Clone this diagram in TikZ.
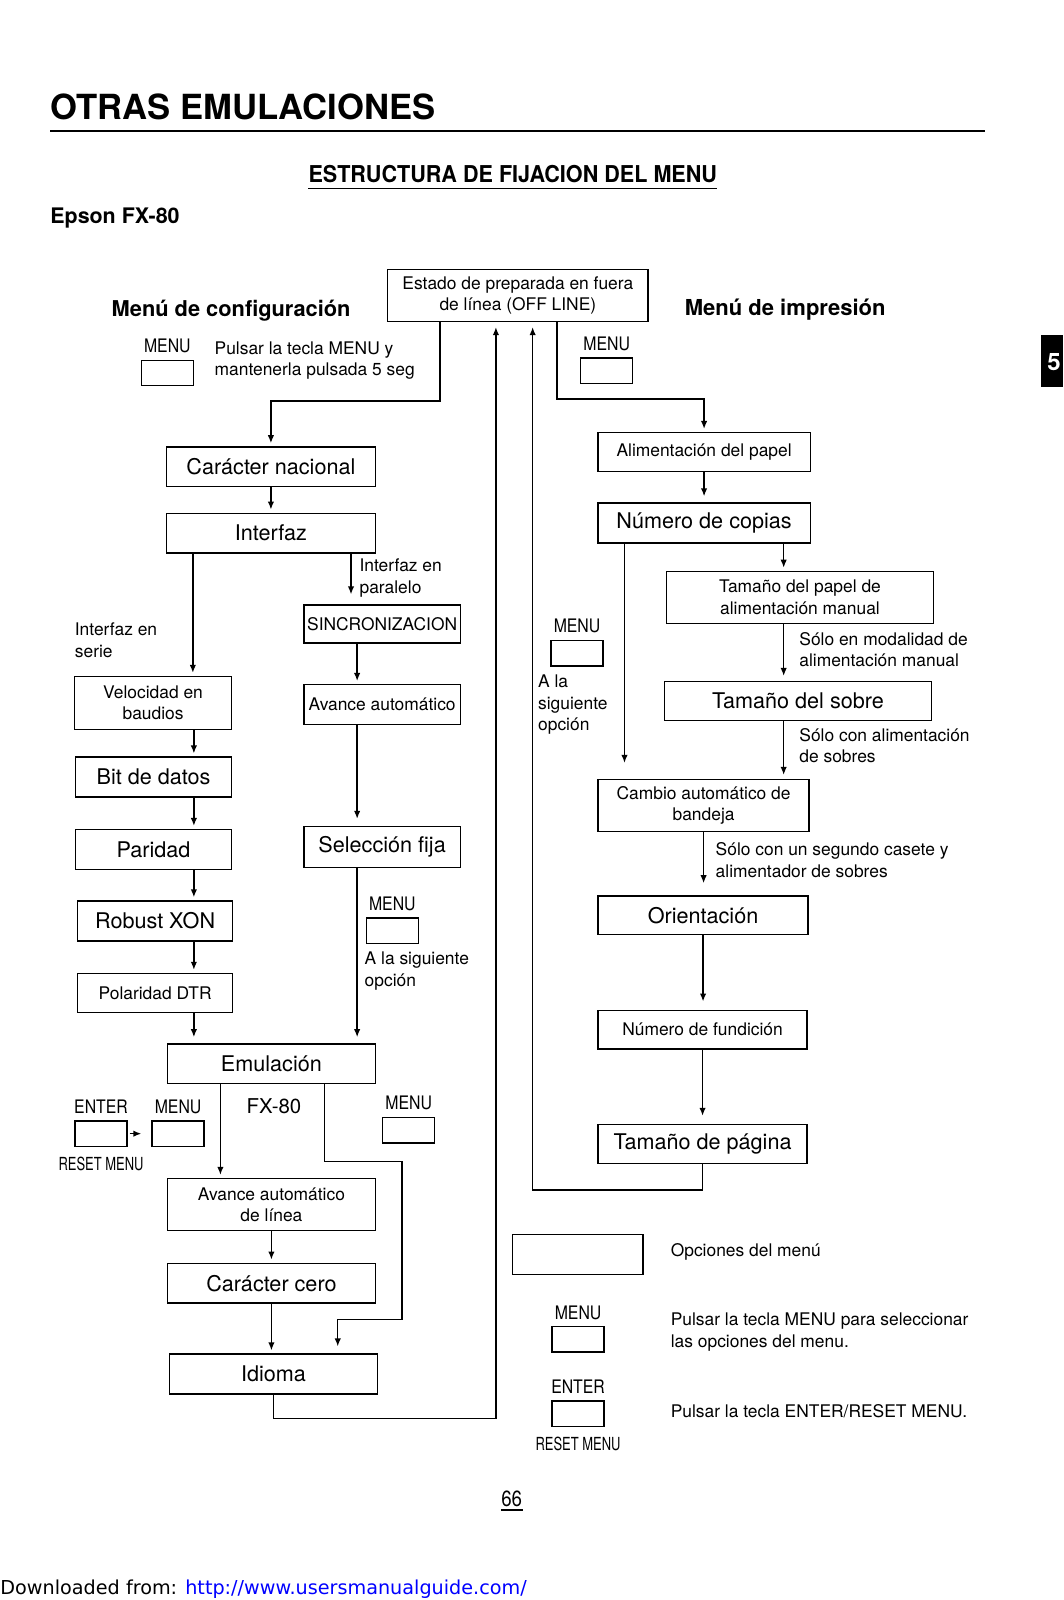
\documentclass[tikz,border=0pt]{standalone}
\usepackage{fontspec}
\setmainfont{TeX Gyre Heros}
\newfontfamily\keyfont[FakeStretch=0.85]{TeX Gyre Heros}
\newfontfamily\resetfont[FakeStretch=0.72]{TeX Gyre Heros}
\newfontfamily\subfont[FakeStretch=0.93]{TeX Gyre Heros}
\newfontfamily\dlfont{DejaVu Sans}
\usetikzlibrary{positioning,arrows.meta}

\newcommand{\optbig}{\fontsize{10.8}{13}\selectfont}
\newcommand{\optsmall}{\fontsize{8.7}{10.7}\selectfont}

\tikzset{
  box/.style 2 args={draw, line width=0.7pt, inner sep=0pt, align=center,
    minimum width=#1*0.51pt, minimum height=#2*0.51pt},
  key/.style={draw, line width=0.7pt, inner sep=0pt,
    minimum width=51*0.51pt, minimum height=25*0.51pt},
  keylbl/.style={inner sep=0pt, font=\keyfont\fontsize{9.3}{11}\selectfont},
  resetlbl/.style={inner sep=0pt, font=\resetfont\fontsize{9}{11}\selectfont},
  note/.style={inner sep=0pt, anchor=west, align=left, font=\optsmall},
  arr/.style={line width=0.7pt, -{Latex[length=4pt,width=3.2pt]}, shorten >=1.5pt},
}

\begin{document}
\begin{tikzpicture}[x=0.51pt,y=-0.51pt]
\useasboundingbox (0,0) rectangle (1042,1568);

% page heading
\node[anchor=west,inner sep=0pt,font=\bfseries\fontsize{17.3}{20}\selectfont] (title) at (49,105) {OTRAS EMULACIONES};
\draw[line width=1.1pt] (49,128) -- (965,128);
\node[anchor=west,inner sep=0pt,font=\subfont\bfseries\fontsize{11.6}{14}\selectfont] (sub) at (302,171) {ESTRUCTURA DE FIJACION DEL MENU};
\draw[line width=0.7pt] ([yshift=-2.5pt]sub.south west) -- ([yshift=-2.5pt]sub.south east);
\node[anchor=west,inner sep=0pt,font=\bfseries\fontsize{10.7}{13}\selectfont] (epson) at (49,214) {Epson FX-80};

% chapter tab
\fill (1020,328) rectangle (1042,379);
\node[white,font=\bfseries\fontsize{12}{14}\selectfont] (tab) at (1033,355) {5};

% menu headings
\node[font=\bfseries\fontsize{10.9}{13}\selectfont] (hcfg) at (226.5,304) {Menú de configuración};
\node[font=\bfseries\fontsize{11}{13}\selectfont] (himp) at (769.5,303) {Menú de impresión};

\node[box={255}{51},font=\optsmall] (top) at (507.5,289.5) {Estado de preparada en fuera\\de línea (OFF LINE)};

\node[key] (kcfg) at (164,365.5) {};
\node[keylbl, above=3pt of kcfg] (lcfg) {MENU};
\node[note] (ncfg) at (210,353.5) {Pulsar la tecla MENU y\\mantenerla pulsada 5 seg};
\node[key] (kimp) at (594.5,363.5) {};
\node[keylbl, above=3pt of kimp] (limp) {MENU};

% configuration menu
\node[box={205}{39},font=\optbig] (cn) at (265.5,457.5) {Carácter nacional};
\node[box={205}{39},font=\optbig] (intf) at (265.5,522.5) {Interfaz};
\node[box={153}{37},font=\optsmall] (sync) at (374.5,611.5) {SINCRONIZACION};
\node[box={153}{39},font=\optsmall] (avA) at (374.5,690.5) {Avance automático};
\node[box={153}{40},font=\optbig] (self) at (374.5,830) {Selección fija};
\node[box={154}{52},font=\optsmall] (vel) at (150,689) {Velocidad en\\baudios};
\node[box={153}{39},font=\optbig] (bit) at (150.5,761.5) {Bit de datos};
\node[box={153}{39},font=\optbig] (par) at (150.5,832.5) {Paridad};
\node[box={152}{39},font=\optbig] (xon) at (152,902.5) {Robust XON};
\node[box={152}{38},font=\optsmall] (dtr) at (152,973) {Polaridad DTR};
\node[box={204}{39},font=\optbig] (emu) at (266,1042.5) {Emulación};
\node[box={204}{51},font=\optsmall] (avl) at (266,1180.5) {Avance automático\\de línea};
\node[box={204}{39},font=\optbig] (cero) at (266,1257.5) {Carácter cero};
\node[box={204}{39},font=\optbig] (idi) at (268,1346.5) {Idioma};

\node[note] (npar) at (352,566.5) {Interfaz en\\paralelo};
\node[note] (nser) at (73,627.5) {Interfaz en\\serie};
\node[key] (kmid) at (384.5,912) {};
\node[keylbl, above=3pt of kmid] (lmid) {MENU};
\node[note] (nmid) at (357,951.5) {A la siguiente\\opción};

\node[key] (kent) at (99,1111) {};
\node[key] (kmen) at (174.5,1111) {};
\node[keylbl, above=3pt of kent] (lent) {ENTER};
\node[keylbl, above=3pt of kmen] (lmen) {MENU};
\node[resetlbl, below=5pt of kent] (lreset) {RESET MENU};
\node[font=\fontsize{10.2}{12}\selectfont] (fx) at (268.5,1084) {FX-80};
\node[key] (kemu) at (400.5,1107.5) {};
\node[keylbl, above=3pt of kemu] (lemu) {MENU};

% print menu
\node[box={208}{38},font=\optsmall] (alim) at (690,443) {Alimentación del papel};
\node[box={208}{39},font=\optbig] (cop) at (690,512.5) {Número de copias};
\node[box={262}{51},font=\optsmall] (tpm) at (784,585.5) {Tamaño del papel de\\alimentación manual};
\node[box={262}{38},font=\optbig] (sob) at (782,687) {Tamaño del sobre};
\node[box={207}{51},font=\optsmall] (cam) at (689.5,789.5) {Cambio automático de\\bandeja};
\node[box={206}{38},font=\optbig] (ori) at (689,897) {Orientación};
\node[box={205}{38},font=\optsmall] (fun) at (688.5,1009) {Número de fundición};
\node[box={205}{38},font=\optbig] (pag) at (688.5,1121) {Tamaño de página};

\node[key] (knext) at (565.5,640) {};
\node[keylbl, above=3pt of knext] (lnext) {MENU};
\node[note] (nnext) at (527,690.5) {A la\\siguiente\\opción};
\node[note] (ntpm) at (783,636.5) {Sólo en modalidad de\\alimentación manual};
\node[note] (nsob) at (783,731) {Sólo con alimentación\\de sobres};
\node[note] (ncam) at (701,843) {Sólo con un segundo casete y\\alimentador de sobres};

% legend
\node[box={128}{39}] (leg) at (566,1229.5) {};
\node[note] (nleg) at (657,1227) {Opciones del menú};
\node[key] (klm) at (566.5,1312.5) {};
\node[keylbl, above=3pt of klm] (llm) {MENU};
\node[note] (nlm) at (657,1305.5) {Pulsar la tecla MENU para seleccionar\\las opciones del menu.};
\node[key] (kle) at (566.5,1385.5) {};
\node[keylbl, above=3pt of kle] (lle) {ENTER};
\node[resetlbl, below=4.5pt of kle] (lreset2) {RESET MENU};
\node[note] (nle) at (657,1383) {Pulsar la tecla ENTER/RESET MENU.};

% page foot
\node[font=\keyfont\fontsize{11}{13}\selectfont, inner sep=0pt] (pg) at (501.5,1469) {66};
\draw[line width=1pt] ([yshift=-1.5pt]pg.south west) -- ([yshift=-1.5pt]pg.south east);
\node[anchor=west, inner sep=0pt, font=\dlfont\fontsize{9.6}{12}\selectfont] (dl) at (0,1557) {Downloaded from: \textcolor{blue}{http://www.usersmanualguide.com/}};

% connectors
\coordinate (t1) at (431,393);
\coordinate (t2) at (546,391);
\coordinate (serie) at (189,0);
\coordinate (para) at (344,0);
\coordinate (mid) at (350,0);
\coordinate (lcol) at (190,0);
\coordinate (emul) at (216,0);
\coordinate (e1) at (318,1138);
\coordinate (e2) at (394,1293);
\coordinate (e3) at (331,0);
\coordinate (r1) at (486,1390);
\coordinate (r2) at (522,1166);
\coordinate (rcol) at (768,0);
\coordinate (nxt) at (612,0);

\draw[arr] (top.south -| t1) -- (t1) -| (cn.north);
\draw[arr] (top.south -| t2) -- (t2) -| (alim.north);
\draw[arr] (cn) -- (intf);
\draw[arr] (intf.south -| serie) -- (vel.north -| serie);
\draw[arr, shorten >=5pt] (intf.south -| para) -- (sync.north -| para);
\draw[arr] (sync.south -| mid) -- (avA.north -| mid);
\draw[arr, shorten >=3.5pt] (avA.south -| mid) -- (self.north -| mid);
\draw[arr, shorten >=3pt] (self.south -| mid) -- (emu.north -| mid);
\foreach \a/\b in {vel/bit, bit/par, par/xon, xon/dtr}
  \draw[arr] (\a.south -| lcol) -- (\b.north -| lcol);
\draw[arr, shorten >=3pt] (dtr.south -| lcol) -- (emu.north -| lcol);
\draw[arr] (emu.south -| emul) -- (avl.north -| emul);
\draw[arr, shorten >=3.5pt] (emu.south -| e1) -- (e1) -| (e2) -| (idi.north -| e3);
\draw[arr] (avl) -- (cero);
\draw[arr] (cero.south) -- (cero.south |- idi.north);
\draw[arr, shorten >=2.5pt] (idi.south) |- (r1) -- (top.south -| r1);
\draw[arr, shorten >=2.5pt] (pag.south) |- (r2) -- (top.south -| r2);
\draw[arr, shorten <=1pt, shorten >=5pt] (kent) -- (kmen);

\draw[arr, shorten >=3pt] (alim) -- (cop);
\draw[arr] (cop.south -| rcol) -- (tpm.north -| rcol);
\draw[arr, shorten >=2.5pt] (tpm.south -| rcol) -- (sob.north -| rcol);
\draw[arr, shorten >=2pt] (sob.south -| rcol) -- (cam.north -| rcol);
\draw[arr, shorten >=8pt] (cop.south -| nxt) -- (cam.north -| nxt);
\draw[arr, shorten >=6pt] (cam.south) -- (cam.south |- ori.north);
\draw[arr, shorten >=4pt] (ori.south) -- (ori.south |- fun.north);
\draw[arr, shorten >=4pt] (fun) -- (pag);
\end{tikzpicture}
\end{document}
